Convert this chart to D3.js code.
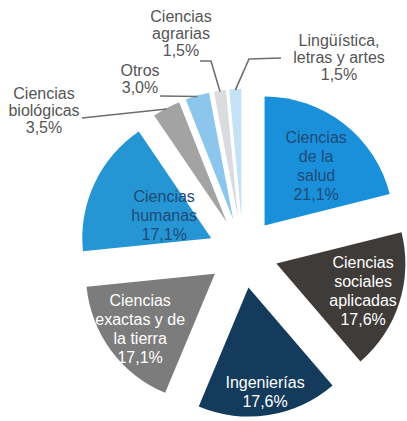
<!DOCTYPE html>
<html>
<head>
<meta charset="utf-8">
<script src="https://cdn.jsdelivr.net/npm/d3@7"></script>
<style>
    body { margin: 0; background: #fff; }
    text { font-family: "Liberation Sans", Arial, sans-serif; font-size: 16px; }
</style>
</head>
<body>
<svg id="chart"></svg>
<script>
// data, in slice order clockwise from 12 o'clock
const categories = ["Ciencias de la salud", "Ciencias sociales aplicadas", "Ingenierías",
    "Ciencias exactas y de la tierra", "Ciencias humanas", "Ciencias biológicas",
    "Otros", "Ciencias agrarias", "Lingüística, letras y artes"];
const values = [21.1, 17.6, 17.6, 17.1, 17.1, 3.5, 3.0, 1.5, 1.5];
const labelLines = [
    ["Ciencias", "de la", "salud"],
    ["Ciencias", "sociales", "aplicadas"],
    ["Ingenierías"],
    ["Ciencias", "exactas y de", "la tierra"],
    ["Ciencias", "humanas"],
    ["Ciencias", "biológicas"],
    ["Otros"],
    ["Ciencias", "agrarias"],
    ["Lingüística,", "letras y artes"]
];

const colors = ["#1b90da", "#3e3b39", "#143a5c", "#7c7c7c", "#2596d3",
    "#a3a3a3", "#8cc6ec", "#d9dbde", "#c4e2f5"];
const textColors = ["#1d4a78", "#fff", "#fff", "#fff", "#1d4a78"];

const width = 407;
const height = 421;
const cx = 243, cy = 253;
const radius = 129;
const explode = 35;
const lineHeight = 19;

const fmt = v => v.toFixed(1).replace('.', ',') + '%';

const svg = d3.select('#chart')
    .attr('width', width)
    .attr('height', height);

const g = svg.append('g')
    .attr('transform', `translate(${cx}, ${cy})`);

const pie = d3.pie()
    .value(d => d)
    .sort(null);

const arc = d3.arc()
    .innerRadius(0)
    .outerRadius(radius);

const arcs = pie(values);
const mid = d => (d.startAngle + d.endAngle) / 2;
const polar = (a, r) => [Math.sin(a) * r, -Math.cos(a) * r];

const slices = g.selectAll('g.slice')
    .data(arcs)
    .enter()
    .append('g')
    .attr('class', 'slice')
    .attr('transform', d => {
        let [x, y] = polar(mid(d), explode);
        return `translate(${x}, ${y})`;
    });

slices.append('path')
    .attr('d', arc)
    .attr('fill', (d, i) => colors[i]);

// inside labels for the big slices (radius and small angle nudge)
const labelRadius = [78, 91, 106, 93, 52];
const labelTurn = [0.06, 0, 0, 0, 0];
slices.filter((d, i) => i < 5)
    .each(function (d) {
        let i = d.index;
        let lines = labelLines[i].concat([fmt(values[i])]);
        let [x, y] = polar(mid(d) + labelTurn[i], labelRadius[i]);
        let t = d3.select(this).append('text')
            .attr('text-anchor', 'middle')
            .attr('fill', textColors[i])
            .attr('x', x)
            .attr('y', y - (lines.length - 1) * lineHeight / 2 + 5);
        lines.forEach((l, k) => {
            t.append('tspan')
                .attr('x', x)
                .attr('dy', k === 0 ? 0 : lineHeight)
                .text(l);
        });
    });

// outside labels with leader lines (page coords for label placement)
const outside = [
    { index: 5, x: 44, y: 99, path: [[82, 118]] },
    { index: 6, x: 140, y: 76, path: [[160, 96]] },
    { index: 7, x: 181, y: 22, path: [[200, 61], [211, 61]] },
    { index: 8, x: 339, y: 46, path: [[281, 58], [249, 59]] }
];

const outerLine = 17;
outside.forEach(o => {
    let d = arcs[o.index];
    let [ex, ey] = polar(mid(d), explode);
    let [px, py] = polar(mid(d), radius - 1);
    let pts = o.path.map(p => [p[0] - cx, p[1] - cy]);
    pts.push([ex + px, ey + py]);
    g.append('path')
        .attr('d', d3.line()(pts))
        .attr('fill', 'none')
        .attr('stroke', '#6e6e6e')
        .attr('stroke-width', 1.6);

    let lines = labelLines[o.index].concat([fmt(values[o.index])]);
    let t = svg.append('text')
        .attr('text-anchor', 'middle')
        .attr('fill', '#555')
        .attr('x', o.x)
        .attr('y', o.y);
    lines.forEach((l, k) => {
        t.append('tspan')
            .attr('x', o.x)
            .attr('dy', k === 0 ? 0 : outerLine)
            .text(l);
    });
});
</script>
</body>
</html>
